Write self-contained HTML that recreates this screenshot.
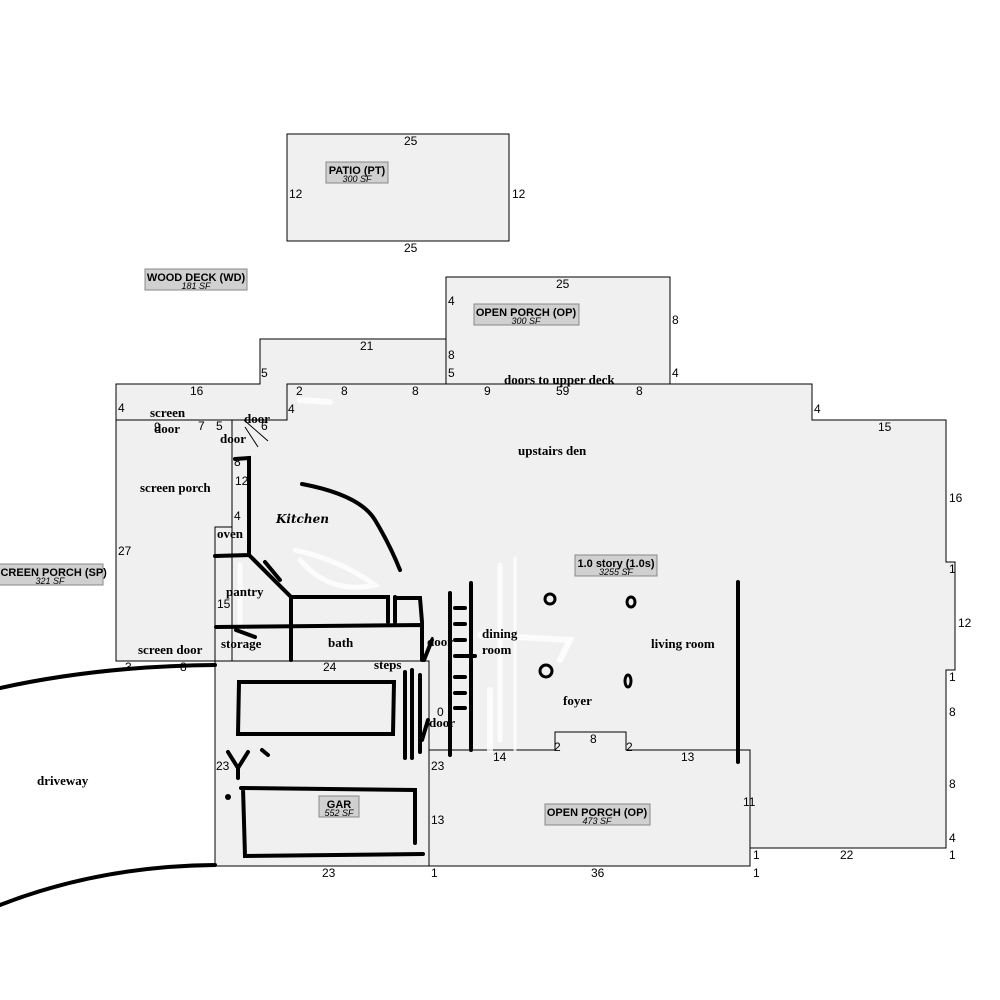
<!DOCTYPE html>
<html><head><meta charset="utf-8"><style>
html,body{margin:0;padding:0;background:#fff;}
svg{display:block}
.n{font-family:"Liberation Sans",sans-serif;font-size:12px;fill:#000}
.r{font-family:"Liberation Serif",serif;font-size:13px;font-weight:bold;fill:#000}
.lb{font-family:"Liberation Sans",sans-serif;font-size:11px;font-weight:bold;fill:#000}
.sf{font-family:"Liberation Sans",sans-serif;font-size:9px;font-style:italic;fill:#000}
</style></head><body>
<svg width="1000" height="1000" viewBox="0 0 1000 1000" xmlns="http://www.w3.org/2000/svg">
<g fill="#f0f0f0" stroke="#000" stroke-width="1">
<rect x="287" y="134" width="222" height="107"/>
<rect x="446" y="277" width="224" height="107"/>
<polygon points="116,384 260,384 260,339 446,339 446,384 287,384 287,420 116,420"/>
<rect x="116" y="420" width="116" height="241"/>
<polygon points="232,420 287,420 287,384 812,384 812,420 946,420 946,562 955,562 955,670 946,670 946,848 741,848 741,750 626,750 626,732 555,732 555,750 429,750 429,661 215,661 215,527 232,527"/>
<rect x="215" y="661" width="214" height="205"/>
<polygon points="429,750 555,750 555,732 626,732 626,750 750,750 750,866 429,866"/>
<rect x="215" y="527" width="17" height="134"/>
</g>
<!-- white smudges -->
<g stroke="#fff" fill="none" stroke-linecap="round" opacity="0.8">
<path d="M300 400 L330 402" stroke-width="6"/>
<path d="M295 550 Q340 560 375 585 Q330 595 300 560" stroke-width="5"/>
<path d="M240 565 L240 635" stroke-width="5"/>
<path d="M500 565 L500 740" stroke-width="5"/>
<path d="M515 558 L515 750" stroke-width="3"/>
<path d="M480 635 L570 640 L560 660" stroke-width="6"/>
<path d="M490 690 L490 750" stroke-width="6"/>
</g>
<!-- black drawn walls -->
<g stroke="#000" fill="none" stroke-width="4" stroke-linecap="round">
<path d="M235 459 L249 458 L249 555 L215 556"/>
<path d="M249 555 L291 597 L291 660"/>
<path d="M265 562 L280 580"/>
<path d="M291 597 L388 597 L388 622"/>
<path d="M395 597 L395 622 M395 598 L420 598 L422 622"/>
<path d="M216 627 L422 625 L422 660"/>
<path d="M236 630 L255 637"/>
<path d="M302 484 Q360 495 375 520 Q390 545 400 570"/>
<path d="M0 688 Q100 666 215 665"/>
<path d="M0 905 Q100 866 215 865"/>
<path d="M239 682 L394 682 L393 734 L238 734 Z"/>
<path d="M241 788 L415 790 L415 843 M243 788 L245 856 L423 854"/>
<path d="M405 672 L405 758 M412 670 L412 758 M420 675 L420 752"/>
<path d="M424 660 L432 640 M422 740 L428 720"/>
<path d="M450 593 L450 755 M471 583 L471 750 M738 582 L738 762"/>
<path d="M455 608 L465 608 M455 624 L465 624 M455 640 L465 640 M455 656 L475 656 M455 677 L465 677 M455 693 L465 693 M455 708 L465 708"/>
<path d="M228 752 L238 768 L248 752 M238 768 L238 778 M262 750 L268 755"/>
</g>
<circle cx="228" cy="797" r="3" fill="#000"/>
<g stroke="#000" stroke-width="3" fill="none">
<circle cx="550" cy="599" r="5"/><ellipse cx="631" cy="602" rx="4" ry="5"/>
<circle cx="546" cy="671" r="6"/><ellipse cx="628" cy="681" rx="3" ry="6"/>
</g>
<g stroke="#000" stroke-width="1"><line x1="245" y1="427" x2="258" y2="447"/><line x1="244" y1="420" x2="268" y2="441"/></g>
<!-- labels -->
<g>
<rect x="326" y="162" width="62" height="21" fill="#d0d0d0" stroke="#888"/>
<text class="lb" x="357" y="174" text-anchor="middle">PATIO (PT)</text><text class="sf" x="357" y="182" text-anchor="middle">300 SF</text>
<rect x="145" y="269" width="102" height="21" fill="#d0d0d0" stroke="#888"/>
<text class="lb" x="196" y="281" text-anchor="middle">WOOD DECK (WD)</text><text class="sf" x="196" y="289" text-anchor="middle">181 SF</text>
<rect x="474" y="304" width="105" height="21" fill="#d0d0d0" stroke="#888"/>
<text class="lb" x="526" y="316" text-anchor="middle">OPEN PORCH (OP)</text><text class="sf" x="526" y="324" text-anchor="middle">300 SF</text>
<rect x="575" y="555" width="82" height="21" fill="#d0d0d0" stroke="#888"/>
<text class="lb" x="616" y="567" text-anchor="middle">1.0 story (1.0s)</text><text class="sf" x="616" y="575" text-anchor="middle">3255 SF</text>
<rect x="-10" y="564" width="113" height="21" fill="#d0d0d0" stroke="#888"/>
<text class="lb" x="50" y="576" text-anchor="middle">SCREEN PORCH (SP)</text><text class="sf" x="50" y="584" text-anchor="middle">321 SF</text>
<rect x="319" y="796" width="40" height="21" fill="#d0d0d0" stroke="#888"/>
<text class="lb" x="339" y="808" text-anchor="middle">GAR</text><text class="sf" x="339" y="816" text-anchor="middle">552 SF</text>
<rect x="545" y="804" width="105" height="21" fill="#d0d0d0" stroke="#888"/>
<text class="lb" x="597" y="816" text-anchor="middle">OPEN PORCH (OP)</text><text class="sf" x="597" y="824" text-anchor="middle">473 SF</text>
</g>
<g class="n">
<text x="404" y="145">25</text><text x="404" y="252">25</text><text x="289" y="198">12</text><text x="512" y="198">12</text>
<text x="556" y="288">25</text><text x="448" y="305">4</text><text x="672" y="324">8</text><text x="448" y="359">8</text>
<text x="360" y="350">21</text><text x="261" y="377">5</text><text x="448" y="377">5</text><text x="672" y="377">4</text>
<text x="190" y="395">16</text><text x="296" y="395">2</text><text x="341" y="395">8</text><text x="412" y="395">8</text><text x="484" y="395">9</text><text x="556" y="395">59</text><text x="636" y="395">8</text>
<text x="118" y="412">4</text><text x="288" y="413">4</text><text x="814" y="413">4</text><text x="878" y="431">15</text>
<text x="154" y="431">9</text><text x="198" y="430">7</text><text x="216" y="430">5</text><text x="261" y="430">6</text>
<text x="234" y="466">8</text><text x="235" y="485">12</text><text x="234" y="520">4</text><text x="118" y="555">27</text>
<text x="217" y="608">15</text><text x="949" y="502">16</text><text x="949" y="573">1</text><text x="958" y="627">12</text><text x="949" y="681">1</text>
<text x="949" y="716">8</text><text x="949" y="788">8</text><text x="949" y="842">4</text><text x="949" y="859">1</text><text x="840" y="859">22</text><text x="753" y="859">1</text><text x="753" y="877">1</text>
<text x="125" y="671">3</text><text x="180" y="671">8</text><text x="323" y="671">24</text><text x="437" y="716">0</text>
<text x="216" y="770">23</text><text x="431" y="770">23</text><text x="431" y="824">13</text><text x="743" y="806">11</text>
<text x="493" y="761">14</text><text x="554" y="751">2</text><text x="590" y="743">8</text><text x="626" y="751">2</text><text x="681" y="761">13</text>
<text x="322" y="877">23</text><text x="431" y="877">1</text><text x="591" y="877">36</text>
</g>
<g class="r">
<text x="504" y="384">doors to upper deck</text><text x="150" y="417">screen</text><text x="154" y="433">door</text>
<text x="244" y="423">door</text><text x="220" y="443">door</text><text x="518" y="455">upstairs den</text>
<text x="140" y="492">screen porch</text><text x="217" y="538">oven</text><text x="226" y="596">pantry</text>
<text x="221" y="648">storage</text><text x="328" y="647">bath</text><text x="138" y="654">screen door</text>
<text x="374" y="669">steps</text><text x="427" y="646">door</text><text x="429" y="727">door</text>
<text x="482" y="638">dining</text><text x="482" y="654">room</text><text x="651" y="648">living room</text>
<text x="563" y="705">foyer</text><text x="37" y="785">driveway</text>
<text x="276" y="523" font-style="italic" font-family="'DejaVu Serif',serif" font-size="12">Kitchen</text>
</g>
</svg>
</body></html>
